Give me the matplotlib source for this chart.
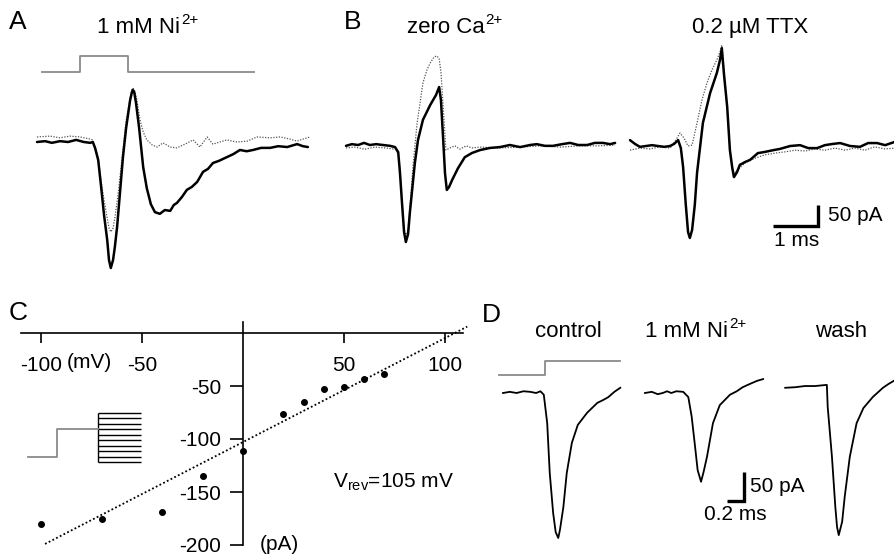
import matplotlib.pyplot as plt

plt.rcParams['font.family'] = ['Liberation Sans', 'DejaVu Sans']
plt.rcParams['mathtext.fontset'] = 'custom'
plt.rcParams['mathtext.rm'] = 'Liberation Sans'
plt.rcParams['mathtext.it'] = 'Liberation Sans:italic'
plt.rcParams['mathtext.bf'] = 'Liberation Sans:bold'

W, H = 895, 555

# ---- A: control (solid) vs 1 mM Ni2+ (dotted); t in ms, I in pA
a_ctl_t = [0.00, 0.18, 0.33, 0.51, 0.69, 0.87, 1.04, 1.18, 1.24, 1.29, 1.36, 1.42, 1.49, 1.56,
           1.60, 1.64, 1.69, 1.73, 1.78, 1.84, 1.91, 1.98, 2.07, 2.11, 2.13, 2.16, 2.20,
           2.27, 2.36, 2.44, 2.53, 2.62, 2.73, 2.84, 2.96, 3.04, 3.11, 3.22, 3.33, 3.44,
           3.56, 3.69, 3.80, 3.91, 4.04, 4.22, 4.36, 4.51, 4.66, 4.80, 4.98, 5.18, 5.36,
           5.56, 5.78, 5.91, 6.02]
a_ctl_i = [0, 2, -2, 2, 0, 5, 0, -2, 0, -14, -43, -102, -174, -233,
           -281, -300, -281, -250, -202, -126, -36, 33, 100, 119, 124, 119, 93,
           33, -60, -110, -148, -167, -171, -162, -164, -150, -145, -131, -114, -107,
           -95, -71, -64, -50, -45, -36, -29, -19, -22, -19, -14, -14, -10,
           -12, -5, -10, -12]
a_ni_t = [0.00, 0.29, 0.51, 0.73, 0.96, 1.18, 1.24, 1.36, 1.42, 1.49, 1.56, 1.60, 1.64, 1.69,
          1.73, 1.80, 1.91, 1.98, 2.07, 2.11, 2.13, 2.18, 2.22, 2.29, 2.36, 2.44, 2.56,
          2.67, 2.80, 2.96, 3.11, 3.29, 3.47, 3.62, 3.78, 3.91, 4.22, 4.44, 4.67, 4.89,
          5.18, 5.40, 5.62, 5.78, 5.91, 6.07]
a_ni_i = [12, 14, 10, 14, 12, 7, 5, -36, -90, -138, -181, -205, -214, -205,
          -181, -126, -19, 50, 105, 124, 129, 119, 100, 52, 24, 5, -7,
          -12, -2, -12, -14, -5, 5, -12, 12, -5, 5, 0, 2, 12,
          10, 12, 7, 2, 7, 12]
a_stim_t = [0.11, 0.96, 0.96, 2.02, 2.02, 4.82]
a_stim_v = [0, 0, 1, 1, 0, 0]

# ---- B left: control (solid) vs zero Ca2+ (dotted)
b1_ctl_t = [0, 0.13, 0.27, 0.40, 0.53, 0.67, 0.82, 0.98, 1.09, 1.16, 1.20, 1.24, 1.29, 1.33,
            1.38, 1.42, 1.47, 1.53, 1.60, 1.71, 1.87, 2.00, 2.07, 2.11, 2.16, 2.20, 2.24,
            2.29, 2.36, 2.49, 2.64, 2.80, 2.98, 3.20, 3.42, 3.64, 3.87, 4.09, 4.24, 4.42,
            4.60, 4.80, 4.98, 5.16, 5.36, 5.53, 5.71, 5.87, 5.98]
b1_ctl_i = [-2, 2, 0, 5, 0, 2, 0, -2, -5, -17, -67, -131, -207, -231,
            -212, -160, -107, -43, 12, 60, 95, 119, 138, 107, 12, -67, -107,
            -100, -83, -55, -29, -19, -12, -7, -5, 0, -5, 0, 2, -2,
            -2, 2, 5, 0, 0, 5, 5, 2, 5]
b1_ca_t = [0, 0.20, 0.42, 0.64, 0.87, 1.09, 1.16, 1.20, 1.24, 1.29, 1.33, 1.38, 1.42, 1.49,
           1.58, 1.71, 1.80, 1.87, 1.96, 2.02, 2.07, 2.11, 2.16, 2.22, 2.31, 2.42, 2.53,
           2.67, 2.80, 2.98, 3.42, 3.87, 4.31, 4.76, 5.20, 5.64, 5.98]
b1_ca_i = [-7, -5, -10, -5, -7, -10, -20, -60, -125, -200, -217, -200, -150, -48,
           52, 148, 179, 195, 210, 212, 205, 174, 90, -12, -7, -2, -10,
           -2, -7, -5, -7, -5, -2, -5, -2, -2, 0]

# ---- B right: control (solid) vs 0.2 uM TTX (dotted)
b2_ctl_t = [0, 0.11, 0.22, 0.36, 0.49, 0.62, 0.76, 0.89, 0.98, 1.07, 1.13, 1.18, 1.24, 1.29,
            1.33, 1.38, 1.44, 1.49, 1.56, 1.62, 1.78, 1.93, 2.00, 2.04, 2.09, 2.16, 2.22,
            2.27, 2.31, 2.38, 2.44, 2.56, 2.67, 2.84, 3.00, 3.18, 3.33, 3.56, 3.78, 3.96,
            4.16, 4.33, 4.51, 4.67, 4.89, 5.11, 5.29, 5.49, 5.67, 5.89]
b2_ctl_i = [14, 5, -2, 0, 2, 0, -2, 0, 5, 14, -5, -50, -140, -205,
            -219, -200, -140, -64, 0, 55, 126, 174, 205, 233, 169, 93, -10,
            -50, -74, -62, -45, -38, -33, -17, -14, -10, -7, 0, 2, -5,
            -5, 2, 5, 7, 0, -2, 7, 7, 2, 10]
b2_ttx_t = [0, 0.22, 0.44, 0.67, 0.89, 1.02, 1.11, 1.20, 1.29, 1.38, 1.49, 1.60, 1.71, 1.82,
            1.93, 2.00, 2.04, 2.09, 2.16, 2.22, 2.29, 2.38, 2.56, 2.78, 3.00, 3.22, 3.44,
            3.67, 3.89, 4.11, 4.33, 4.56, 4.78, 5.00, 5.22, 5.44, 5.67, 5.89]
b2_ttx_i = [-10, -5, -7, -2, -5, 14, 31, 19, 0, 2, 55, 110, 150, 181,
            205, 224, 240, 181, 86, -10, -69, -57, -40, -29, -21, -17, -14,
            -10, -12, -7, -10, -5, -10, -5, -10, -2, -7, -5]

# ---- C: I-V relation
c_v = [-100, -70, -40, -20, 0, 20, 30, 40, 50, 60, 70]
c_i = [-180, -175, -169, -135, -111, -76, -65, -53, -51, -43, -39]
fit_v = [-98, 111]
fit_i = [-199, 6]
c_xticks = [-100, -50, 50, 100]
c_yticks = [-50, -100, -150, -200]
prot_hold_t = [0, 1.0, 1.0, 2.4]
prot_hold_v = [-90, -90, -40, -40]
prot_steps = [-10, -20, -30, -40, -50, -60, -70, -80, -90, -100]
prot_step_t = [2.4, 3.9]

# ---- D: control, 1 mM Ni2+, wash
d_ctl_t = [0, 0.08, 0.16, 0.24, 0.32, 0.39, 0.44, 0.48, 0.52, 0.55, 0.59, 0.62, 0.65, 0.67,
           0.71, 0.75, 0.81, 0.88, 0.99, 1.11, 1.18, 1.24, 1.31, 1.38]
d_ctl_i = [0, 2, 0, 3, 2, 0, 3, -3, -52, -138, -207, -240, -250, -236,
           -197, -138, -86, -55, -34, -17, -12, -7, 2, 9]
d_ni_t = [1.67, 1.75, 1.82, 1.88, 1.93, 1.98, 2.04, 2.12, 2.18, 2.22, 2.26, 2.29, 2.33, 2.36,
          2.40, 2.47, 2.55, 2.67, 2.75, 2.82, 2.91, 2.99, 3.06]
d_ni_i = [0, 2, -2, 0, 3, 0, 3, 2, -7, -41, -93, -133, -153, -136,
          -110, -52, -21, -3, 3, 10, 16, 21, 24]
d_wash_t = [3.32, 3.44, 3.55, 3.67, 3.81, 3.82, 3.87, 3.91, 3.93, 3.95, 3.99, 4.02, 4.08, 4.16,
            4.24, 4.35, 4.47, 4.54, 4.61]
d_wash_i = [9, 10, 12, 12, 14, -24, -110, -197, -231, -245, -222, -179, -110, -52,
            -26, -7, 9, 16, 22]
d_stim_t = [-0.05, 0.49, 0.49, 1.38]
d_stim_v = [0, 0, 1, 1]

fig = plt.figure(figsize=(W / 100, H / 100), dpi=100)
renderer = fig.canvas.get_renderer()


def add_panel(box, xref, yref, off=True):
    # box in pixels (left, top, right, bottom); ref = (pixel, value, px per unit)
    l, t, r, b = box
    ax = fig.add_axes([l / W, 1 - b / H, (r - l) / W, (b - t) / H])
    px, xv, sx = xref
    py, yv, sy = yref
    ax.set_xlim(xv - (px - l) / sx, xv + (r - px) / sx)
    ax.set_ylim(yv - (b - py) / sy, yv + (py - t) / sy)
    if off:
        ax.set_axis_off()
    return ax


def ftext(x, y, s, **kw):
    return fig.text(x / W, 1 - y / H, s, **kw)


def title(x, y, base, sup=None, size=16):
    t = ftext(x, y, base, fontsize=size, va='baseline')
    if sup:
        bb = t.get_window_extent(renderer=renderer)
        ftext(bb.x1 + 1, y - 0.42 * size * 100 / 72, sup, fontsize=size * 0.68, va='baseline')


solid = dict(color='black', lw=1.8, solid_joinstyle='round', solid_capstyle='round')
dotted = dict(color='#555555', lw=0.9, ls=(0, (1, 1.2)))
stim = dict(color='#8a8a8a', lw=1.3)
bar = dict(color='black', lw=2.4, solid_capstyle='butt', solid_joinstyle='miter')
FS = 15

# A
ax = add_panel((30, 40, 320, 285), (37, 0, 45), (142, 0, 0.42))
ax.plot(a_ni_t, a_ni_i, **dotted)
ax.plot(a_ctl_t, a_ctl_i, **solid)
ax = add_panel((30, 40, 320, 285), (37, 0, 45), (72, 0, 16))
ax.plot(a_stim_t, a_stim_v, **stim)

# B
ax = add_panel((340, 40, 620, 285), (346, 0, 45), (145, 0, 0.42))
ax.plot(b1_ca_t, b1_ca_i, **dotted)
ax.plot(b1_ctl_t, b1_ctl_i, **solid)
ax = add_panel((625, 40, 895, 285), (630, 0, 45), (146, 0, 0.42))
ax.plot(b2_ttx_t, b2_ttx_i, **dotted)
ax.plot(b2_ctl_t, b2_ctl_i, **solid)
sb_t, sb_i = 3.18, -190
ax.plot([sb_t, sb_t + 1, sb_t + 1], [sb_i, sb_i, sb_i + 50], **bar)
ax.text(sb_t + 1.22, sb_i + 25, '50 pA', fontsize=FS, va='center', ha='left')
ax.text(sb_t + 0.03, sb_i - 34, '1 ms', fontsize=FS, va='center', ha='left')

# C
ax = add_panel((15, 315, 470, 555), (243, 0, 2.02), (333, 0, 1.06), off=False)
ax.patch.set_visible(False)
for s in ('top', 'right'):
    ax.spines[s].set_visible(False)
ax.spines['left'].set_position(('data', 0))
ax.spines['bottom'].set_position(('data', 0))
ax.spines['left'].set_bounds(-200, 10)
ax.spines['bottom'].set_bounds(-110, 109)
for s in ('left', 'bottom'):
    ax.spines[s].set_linewidth(1.2)
ax.set_xticks(c_xticks)
ax.set_xticklabels([str(v) for v in c_xticks])
ax.set_yticks(c_yticks)
ax.set_yticklabels([str(v) for v in c_yticks])
ax.tick_params(axis='x', direction='out', length=7.5, width=1.2, pad=9, labelsize=FS)
ax.tick_params(axis='y', direction='out', length=9.5, width=1.2, pad=6, labelsize=FS)
ax.plot(fit_v, fit_i, color='black', lw=1.3, ls=(0, (1, 1.3)))
ax.plot(c_v, c_i, 'o', color='black', ms=4)
ax.text(-76, -28, '(mV)', fontsize=FS, ha='center', va='center')
ax.text(8.5, -200, '(pA)', fontsize=FS, ha='left', va='center')
ax.text(44.5, -141, r'V$_{\mathrm{rev}}$=105 mV', fontsize=FS, ha='left', va='center')

ax = add_panel((20, 400, 150, 470), (28, 0, 29), (413, -10, 0.545))
ax.vlines(prot_step_t[0], min(prot_steps), max(prot_steps), color='black', lw=1.0)
ax.hlines(prot_steps, prot_step_t[0], prot_step_t[1], color='black', lw=1.0)
ax.plot(prot_hold_t, prot_hold_v, **stim)

# D
ax = add_panel((490, 340, 895, 555), (503, 0, 85), (393, 0, 0.58))
thin = dict(color='black', lw=1.3, solid_joinstyle='round')
ax.plot(d_ctl_t, d_ctl_i, **thin)
ax.plot(d_ni_t, d_ni_i, **thin)
ax.plot(d_wash_t, d_wash_i, **thin)
sd_t, sd_i = 2.64, -186
ax.plot([sd_t, sd_t + 0.2, sd_t + 0.2], [sd_i, sd_i, sd_i + 50], **bar)
ax.text(sd_t + 0.27, sd_i + 25, '50 pA', fontsize=FS, va='center', ha='left')
ax.text(sd_t - 0.28, sd_i - 24, '0.2 ms', fontsize=FS, va='center', ha='left')
ax = add_panel((490, 340, 895, 555), (503, 0, 85), (375, 0, 14))
ax.plot(d_stim_t, d_stim_v, **stim)

# labels
ftext(9, 22, 'A', fontsize=19, va='center')
ftext(344, 22, 'B', fontsize=19, va='center')
ftext(9, 313, 'C', fontsize=19, va='center')
ftext(482, 315, 'D', fontsize=19, va='center')
title(97, 33, '1 mM Ni', '2+')
title(407, 33, 'zero Ca', '2+')
title(692, 33, '0.2 µM TTX')
title(535, 337, 'control')
title(645, 337, '1 mM Ni', '2+')
title(815, 337, 'wash')

fig.savefig('out.png', dpi=100)
